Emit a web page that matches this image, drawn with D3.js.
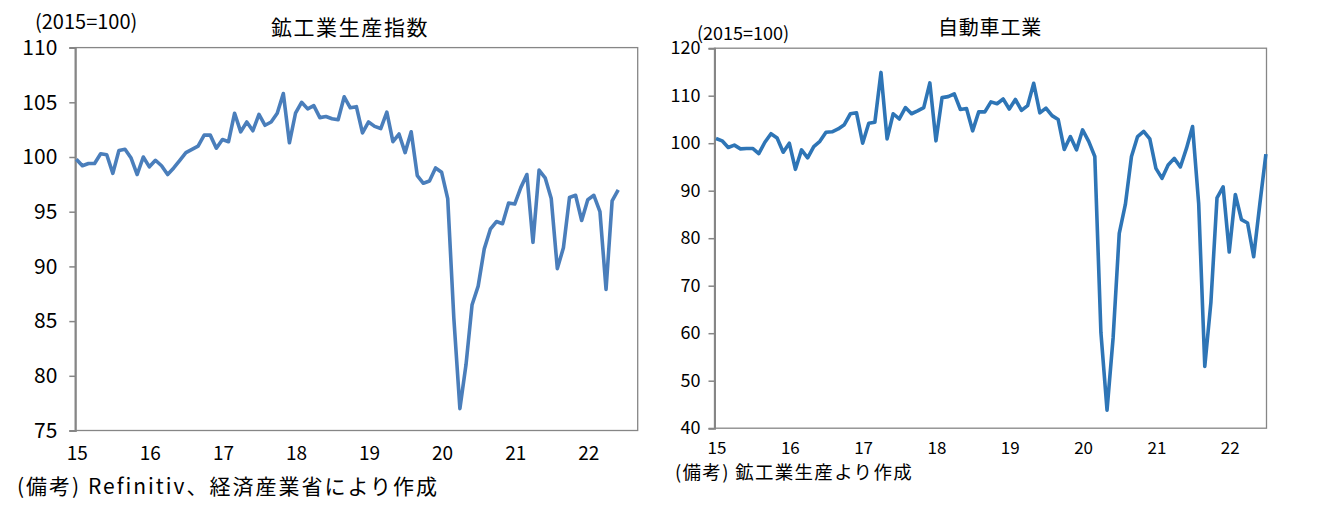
<!DOCTYPE html>
<html>
<head>
<meta charset="utf-8">
<script src="https://cdn.jsdelivr.net/npm/d3@7"></script>
<style>
  html, body { margin: 0; padding: 0; background: #fff; }
  svg text { font-family: "Noto Sans CJK JP", "Noto Sans", sans-serif; fill: #000; }
</style>
</head>
<body>
<svg id="chart" width="1321" height="507"></svg>
<script>
// ---- Data (monthly, from Jan 2015) ----
const yearLabels = ["15", "16", "17", "18", "19", "20", "21", "22"];

const miningValues = [
  99.8, 99.2, 99.4, 99.4, 100.3, 100.2, 98.5, 100.6, 100.7, 99.9, 98.4, 100.0,
  99.1, 99.7, 99.2, 98.4, 99.0, 99.7, 100.4, 100.7, 101.0, 102.0, 102.0, 100.8,
  101.6, 101.4, 104.0, 102.3, 103.2, 102.4, 103.9, 102.9, 103.2, 104.0, 105.8, 101.3,
  104.0, 105.0, 104.4, 104.7, 103.6, 103.7, 103.5, 103.4, 105.5, 104.5, 104.6, 102.2,
  103.2, 102.8, 102.6, 104.1, 101.4, 102.1, 100.4, 102.3, 98.3, 97.6, 97.8, 99.0,
  98.6, 96.2, 85.3, 77.0, 81.0, 86.5, 88.2, 91.6, 93.4, 94.1, 93.9, 95.8,
  95.7, 97.2, 98.4, 92.2, 98.8, 98.1, 96.2, 89.8, 91.7, 96.3, 96.5, 94.2,
  96.1, 96.5, 95.0, 87.9, 96.0, 97.0
];

const autoValues = [
  101.0, 100.5, 99.1, 99.6, 98.8, 98.9, 98.9, 97.8, 100.2, 102.0, 101.1, 98.1,
  100.0, 94.5, 98.6, 96.9, 99.3, 100.4, 102.3, 102.4, 103.0, 103.9, 106.2, 106.4,
  100.0, 104.2, 104.4, 114.9, 100.9, 106.2, 105.1, 107.5, 106.2, 106.8, 107.5, 112.7,
  100.5, 109.6, 109.8, 110.4, 107.1, 107.3, 102.6, 106.6, 106.6, 108.7, 108.3, 109.3,
  107.2, 109.2, 106.9, 107.9, 112.6, 106.4, 107.4, 105.8, 105.0, 98.7, 101.4, 98.6,
  102.8, 100.4, 97.2, 60.1, 43.8, 59.1, 81.0, 87.1, 97.2, 101.4, 102.5, 100.9,
  94.7, 92.6, 95.4, 96.8, 95.0, 98.9, 103.5, 87.3, 53.0, 66.5, 88.5, 90.8,
  77.1, 89.2, 83.9, 83.2, 76.1, 87.1, 97.7
];

const leftYTicks = [75, 80, 85, 90, 95, 100, 105, 110];
const rightYTicks = [40, 50, 60, 70, 80, 90, 100, 110, 120];

const svg = d3.select("#chart");

function drawPanel(cfg) {
  const g = svg.append("g");
  const x = d3.scaleLinear().domain(cfg.xDomain).range([cfg.left + cfg.pad, cfg.right]);
  const y = d3.scaleLinear().domain(cfg.yDomain).range([cfg.bottom, cfg.top]);

  // Plot border
  g.append("rect")
    .attr("x", cfg.left).attr("y", cfg.top)
    .attr("width", cfg.right - cfg.left).attr("height", cfg.bottom - cfg.top)
    .attr("fill", "none").attr("stroke", "#868686").attr("stroke-width", 1.3);

  // Y axis
  const yAxis = d3.axisLeft(y).tickValues(cfg.yTicks).tickSize(6).tickPadding(cfg.tickPad).tickFormat(d3.format("d"));
  const ya = g.append("g").attr("transform", `translate(${cfg.left},0)`).call(yAxis);
  ya.select(".domain").attr("stroke", "#868686").attr("stroke-width", 2);
  ya.selectAll(".tick line").attr("stroke", "#868686").attr("stroke-width", 1.5);
  ya.selectAll(".tick text").attr("font-size", cfg.yTickFont).attr("font-family", '"Noto Sans CJK JP", sans-serif').attr("fill", "#000");

  // X labels (every January)
  g.selectAll("text.xl").data(yearLabels).join("text")
    .attr("class", "xl")
    .attr("x", (d, i) => x(i * 12) + 1)
    .attr("y", cfg.xLabelY)
    .attr("text-anchor", "middle")
    .attr("font-size", cfg.xTickFont)
    .text(d => d);

  // Line
  const line = d3.line().x((d, i) => x(i)).y(d => y(d));
  g.append("path").datum(cfg.values)
    .attr("d", line)
    .attr("fill", "none")
    .attr("stroke", cfg.color)
    .attr("stroke-width", 3.6)
    .attr("stroke-linejoin", "round");

  // Title
  g.append("text").attr("x", cfg.titleX).attr("y", 35)
    .attr("text-anchor", "middle").attr("font-size", cfg.titleFont)
    .attr("letter-spacing", cfg.titleSpacing).text(cfg.title);
  // Unit
  g.append("text").attr("x", cfg.unitX).attr("y", cfg.unitY)
    .attr("font-size", cfg.unitFont).text("(2015=100)");
  // Note
  g.append("text").attr("x", cfg.noteX).attr("y", cfg.noteY)
    .attr("font-size", cfg.noteFont).attr("letter-spacing", cfg.noteSpacing).text(cfg.note);
}

drawPanel({
  left: 75.3, right: 637.7, top: 47.6, bottom: 430.5, pad: 1,
  xDomain: [0, 92.2], yDomain: [75, 110], yTicks: leftYTicks,
  values: miningValues, color: "#4A7EBB",
  yTickFont: 21, xTickFont: 19, tickPad: 12, xLabelY: 460,
  title: "鉱工業生産指数", titleX: 350, titleFont: 21, titleSpacing: 1.6,
  unitX: 35, unitY: 29, unitFont: 20,
  note: "(備考) Refinitiv、経済産業省により作成", noteX: 17, noteY: 494, noteFont: 21, noteSpacing: 2.0
});

drawPanel({
  left: 714.5, right: 1266.5, top: 48.2, bottom: 428.2, pad: 1.5,
  xDomain: [0, 90.1], yDomain: [40, 120], yTicks: rightYTicks,
  values: autoValues, color: "#2E75B6",
  yTickFont: 18, xTickFont: 17, tickPad: 8, xLabelY: 454,
  title: "自動車工業", titleX: 990, titleFont: 20, titleSpacing: 0.8,
  unitX: 697, unitY: 40, unitFont: 18,
  note: "(備考) 鉱工業生産より作成", noteX: 675, noteY: 479, noteFont: 18.5, noteSpacing: 1.3
});
</script>
</body>
</html>
